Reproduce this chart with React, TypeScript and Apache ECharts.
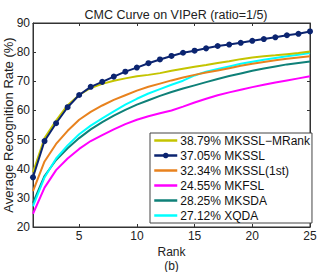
import React, { useEffect, useRef } from "react";
import * as echarts from "echarts";

const ranks = [1,2,3,4,5,6,7,8,9,10,11,12,13,14,15,16,17,18,19,20,21,22,23,24,25];
const seriesNames = ["38.79% MKSSL\u2212MRank", "37.05% MKSSL", "32.34% MKSSL(1st)", "24.55% MKFSL", "28.25% MKSDA", "27.12% XQDA"];
const mrank = [38.79,50.5,56.5,61.8,65.3,67.7,69.1,70.2,71.0,71.7,72.2,72.8,73.6,74.3,75.0,75.6,76.3,76.9,77.6,78.2,78.6,78.9,79.3,79.7,80.2];
const mkssl = [37.05,49.5,55.6,61.1,65.3,68.1,69.8,71.6,73.3,74.7,76.2,77.5,78.7,79.8,80.5,81.3,82.1,82.6,83.2,83.9,84.5,85.1,85.8,86.3,87.1];
const mkssl1st = [32.34,42.5,48.5,53.0,56.8,59.5,61.7,63.6,65.2,66.8,68.1,69.2,70.3,71.3,72.2,73.0,73.7,74.5,75.3,76.0,76.6,77.2,77.7,78.2,78.6];
const mkfsl = [24.55,33.5,39.5,43.5,46.8,49.5,51.5,53.5,55.3,56.8,58.0,59.0,60.0,61.3,62.7,64.0,65.2,66.2,67.1,68.0,68.8,69.6,70.3,71.0,71.7];
const mksda = [28.25,37.5,43.0,47.0,50.5,53.5,56.0,58.2,60.2,62.0,63.5,65.0,66.3,67.5,68.6,69.7,70.8,71.8,72.7,73.6,74.4,75.1,75.8,76.3,76.8];
const xqda = [27.12,37.0,43.5,48.0,51.8,54.8,57.3,59.7,62.0,64.0,65.8,67.3,68.8,70.2,72.0,73.3,74.2,75.1,76.0,76.7,77.4,78.0,78.6,79.1,79.7];
const xTicks = [5, 10, 15, 20, 25];
const colors = ["#c4c400", "#0b2470", "#e8821e", "#ff00ff", "#0f8078", "#00ffff"];

const FONT = "Liberation Sans, Arial, sans-serif";

export default function App() {
  const ref = useRef<HTMLDivElement>(null);
  useEffect(() => {
    if (!ref.current) return;
    const chart = echarts.init(ref.current, null, { renderer: "svg" });
    const data = [mrank, mkssl, mkssl1st, mkfsl, mksda, xqda];
    const series = data.map((vals, i) => ({
      name: seriesNames[i],
      type: "line",
      data: ranks.map((r, k) => [r, vals[k]]),
      symbol: i === 1 ? "circle" : "none",
      symbolSize: 6,
      showSymbol: i === 1,
      lineStyle: { color: colors[i], width: 2 },
      itemStyle: { color: colors[i] },
      z: i === 1 ? 5 : 3,
    }));
    const ordered = [series[3], series[4], series[5], series[2], series[0], series[1]];
    const legendData = seriesNames.map((n, i) =>
      i === 1
        ? { name: n }
        : { name: n, itemStyle: { color: "rgba(0,0,0,0)", borderWidth: 0, opacity: 0 } }
    );
    chart.setOption({
      animation: false,
      textStyle: { fontFamily: FONT },
      title: {
        text: "CMC Curve on VIPeR (ratio=1/5)",
        left: 171,
        top: 3,
        textAlign: "center",
        textStyle: { fontSize: 12.5, fontWeight: "normal", color: "#222", fontFamily: FONT },
      },
      grid: {
        left: 33, right: 9, top: 23, bottom: 45,
        outerBoundsMode: "none",
        containLabel: false,
        show: true, borderColor: "#333", borderWidth: 1, backgroundColor: "#fff",
      },
      legend: {
        orient: "vertical",
        left: 150, top: 133,
        data: legendData,
        itemWidth: 23, itemHeight: 7, itemGap: 0,
        padding: [0, 2, 0, 3],
        backgroundColor: "#fff",
        borderColor: "#444", borderWidth: 1,
        lineStyle: { width: 2.5 },
        textStyle: { fontSize: 12, color: "#111", fontFamily: FONT, lineHeight: 15, padding: [0, 0, 0, -2] },
        selectedMode: false,
      },
      xAxis: [
        {
          type: "value", min: 1, max: 25, position: "bottom",
          name: "Rank\n(b)", nameLocation: "middle", nameGap: 18, nameMoveOverlap: false,
          nameTextStyle: { fontSize: 12, color: "#222", lineHeight: 14, fontFamily: FONT },
          axisLine: { show: true, lineStyle: { color: "#333" } },
          axisTick: { show: true, inside: true, length: 3, customValues: xTicks, lineStyle: { color: "#333" } },
          axisLabel: { customValues: xTicks, fontSize: 12, color: "#222", margin: 3, fontFamily: FONT },
          splitLine: { show: false },
        },
        {
          type: "value", min: 1, max: 25, position: "top",
          axisLine: { show: true, lineStyle: { color: "#333" } },
          axisTick: { show: true, inside: true, length: 3, customValues: xTicks, lineStyle: { color: "#333" } },
          axisLabel: { show: false },
          splitLine: { show: false },
        },
      ],
      yAxis: [
        {
          type: "value", min: 20, max: 90, interval: 10, position: "left",
          name: "Average Recognition Rate (%)", nameLocation: "middle", nameGap: 18, nameMoveOverlap: false,
          nameTextStyle: { fontSize: 13, color: "#222", fontFamily: FONT },
          axisLine: { show: true, lineStyle: { color: "#333" } },
          axisTick: { show: true, inside: true, length: 3, lineStyle: { color: "#333" } },
          axisLabel: { fontSize: 12, color: "#222", margin: 3, fontFamily: FONT },
          splitLine: { show: false },
        },
        {
          type: "value", min: 20, max: 90, interval: 10, position: "right",
          axisLine: { show: true, lineStyle: { color: "#333" } },
          axisTick: { show: true, inside: true, length: 3, lineStyle: { color: "#333" } },
          axisLabel: { show: false },
          splitLine: { show: false },
        },
      ],
      series: ordered,
    });
    return () => chart.dispose();
  }, []);
  return <div ref={ref} style={{ position: "absolute", left: 0, top: 0, width: 319, height: 272 }} />;
}
